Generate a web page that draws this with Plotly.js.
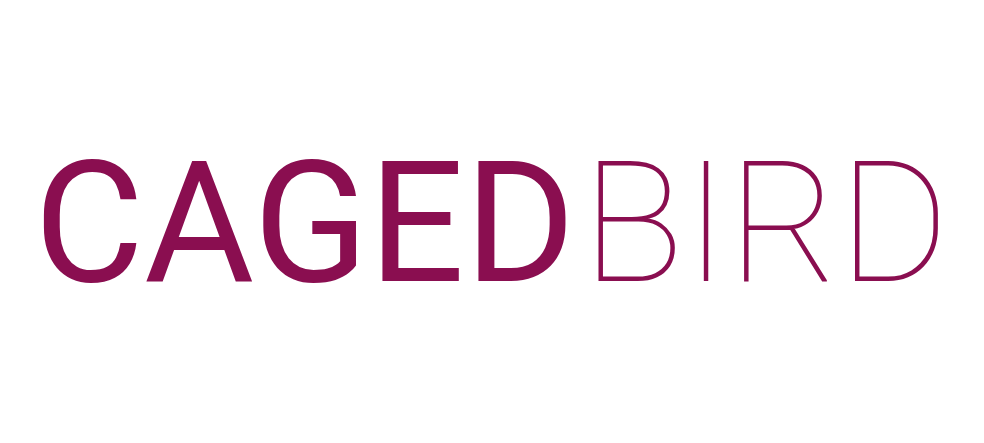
<!DOCTYPE html>
<html>
<head>
<meta charset="utf-8">
<script src="https://cdn.plot.ly/plotly-3.0.1.min.js"></script>
<style>
  html, body { margin: 0; padding: 0; background: #fff; }
  #logo { width: 984px; height: 443px; }
</style>
</head>
<body>
<div id="logo"></div>
<script>
// logo text parts
const words = ['CAGED', 'BIRD'];
const weights = [400, 100];
const xpos = [0.033, 0.589];
const brand_color = '#8A0E50';

var annotations = [];
for (let i = 0; i < words.length; i++) {
  annotations.push({
    xref: 'paper',
    yref: 'paper',
    x: xpos[i],
    y: 0.497,
    xanchor: 'left',
    yanchor: 'middle',
    text: words[i],
    showarrow: false,
    font: { family: 'Roboto', size: 169, color: brand_color, weight: weights[i] }
  });
}

var layout = {
  width: 984,
  height: 443,
  margin: { l: 0, r: 0, t: 0, b: 0 },
  paper_bgcolor: '#fff',
  plot_bgcolor: '#fff',
  xaxis: { visible: false, range: [0, 1] },
  yaxis: { visible: false, range: [0, 1] },
  showlegend: false,
  annotations: annotations
};

Plotly.newPlot('logo', [], layout, { staticPlot: true, displayModeBar: false });
</script>
</body>
</html>
